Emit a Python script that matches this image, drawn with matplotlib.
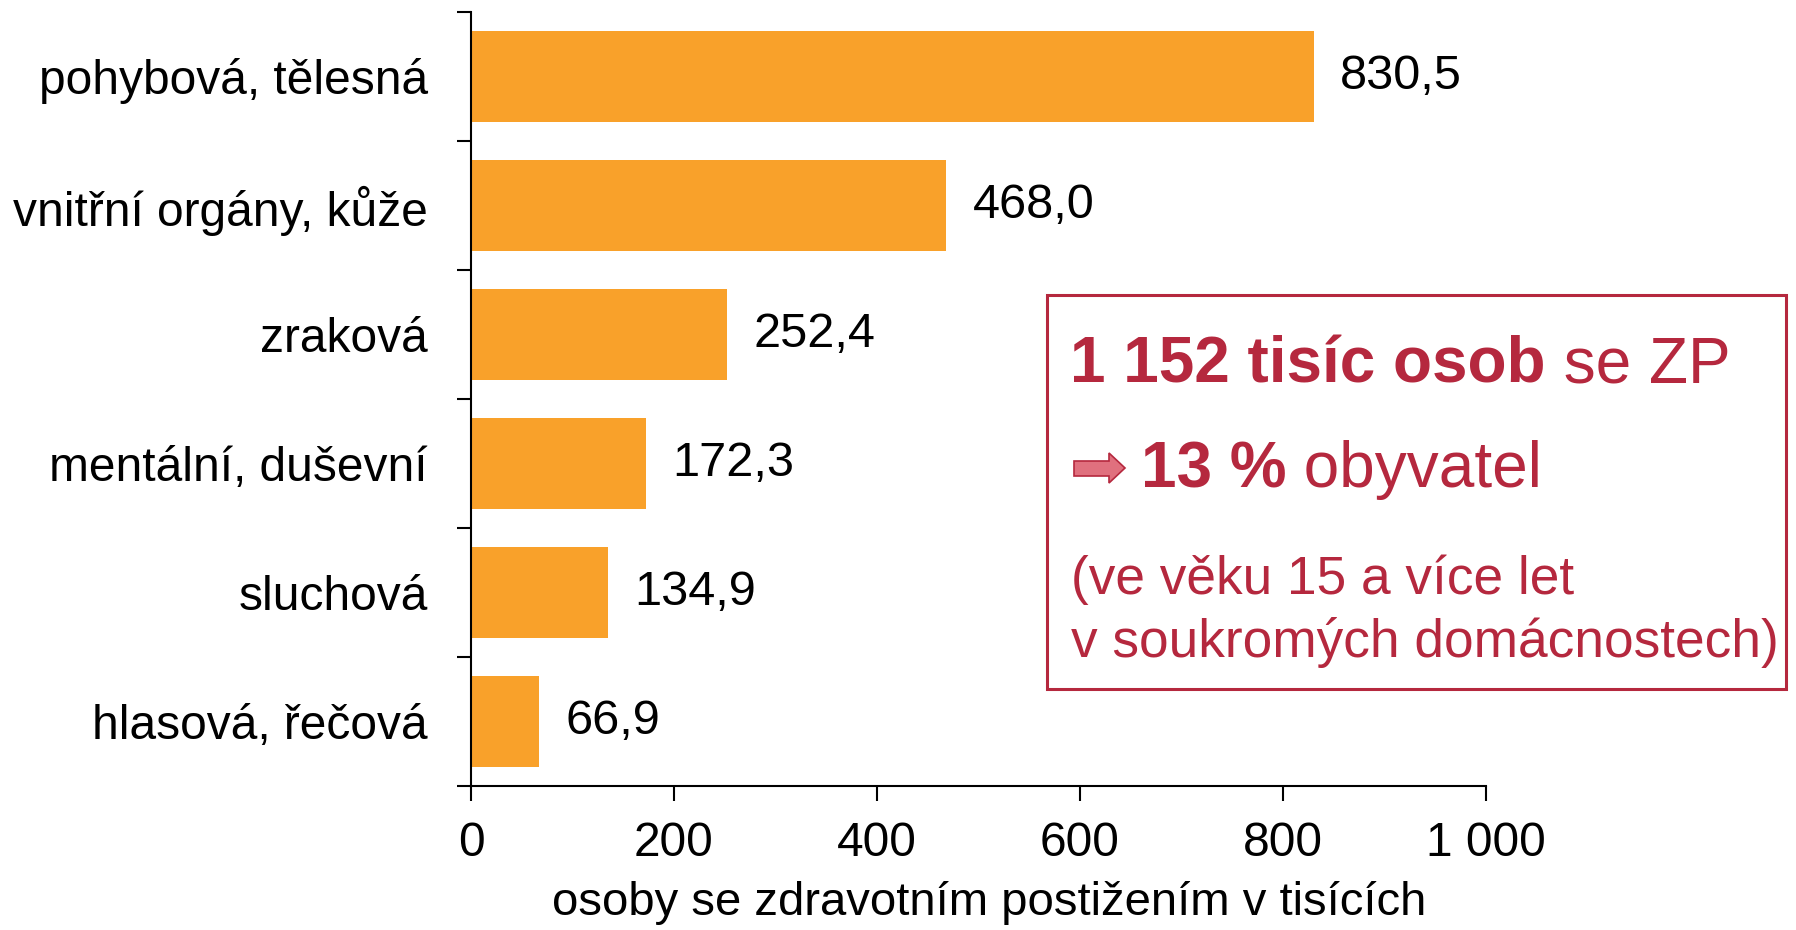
import matplotlib.pyplot as plt
from matplotlib.patches import Rectangle, Polygon
from matplotlib.ticker import FixedLocator

plt.rcParams['font.family'] = ['Liberation Sans', 'DejaVu Sans']

# data
kategorie = ["pohybová, tělesná", "vnitřní orgány, kůže", "zraková",
             "mentální, duševní", "sluchová", "hlasová, řečová"]
hodnoty = [830.5, 468.0, 252.4, 172.3, 134.9, 66.9]
x_ticks = [0, 200, 400, 600, 800, 1000]
x_tick_labels = ["0", "200", "400", "600", "800", "1 000"]

ORANZOVA = "#F9A12A"
CERVENA = "#B5283E"

W, H = 1796, 930
fig = plt.figure(figsize=(W / 100, H / 100), dpi=100)
ax = fig.add_axes([471 / W, 1 - 786 / H, (1486 - 471) / W, (786 - 12) / H])

pos = list(range(len(kategorie)))
ax.barh(pos, hodnoty, height=0.70, color=ORANZOVA)

for p, v in zip(pos, hodnoty):
    ax.annotate(f"{v:.1f}".replace(".", ","), xy=(v, p), xytext=(19, 0),
                textcoords="offset points", va="center", ha="left", fontsize=35)

ax.set_xlim(0, 1000)
ax.set_ylim(len(kategorie) - 0.5, -0.5)
ax.set_xticks(x_ticks)
ax.set_xticklabels(x_tick_labels, fontsize=34.5)
ax.set_yticks(pos)
ax.set_yticklabels(kategorie, fontsize=34.5)
ax.yaxis.set_minor_locator(FixedLocator([i - 0.5 for i in range(len(kategorie) + 1)]))
ax.tick_params(axis="y", which="major", length=0, pad=31)
ax.tick_params(axis="y", which="minor", length=10, width=1.5, direction="out")
ax.tick_params(axis="x", length=11, width=1.5, direction="out", pad=14)
ax.set_xlabel("osoby se zdravotním postižením v tisících", fontsize=34, labelpad=11, x=0.511)

for s in ["top", "right"]:
    ax.spines[s].set_visible(False)
for s in ["left", "bottom"]:
    ax.spines[s].set_linewidth(1.5)

# rámeček s textem
fig.patches.append(Rectangle((1047 / W, 1 - 689 / H), (1786 - 1047) / W, (689 - 295) / H,
                             transform=fig.transFigure, fill=False,
                             edgecolor=CERVENA, linewidth=2.2))


def radek(x, y, casti, size):
    # první část na účaří (x, y), další navazují zprava
    t = fig.text(x / W, 1 - y / H, casti[0][0], fontsize=size, fontweight=casti[0][1],
                 color=CERVENA, ha="left", va="baseline")
    for txt, weight in casti[1:]:
        t = ax.annotate(txt, xy=(1, 0), xycoords=t, xytext=(0, 0),
                        textcoords="offset points", fontsize=size, fontweight=weight,
                        color=CERVENA, ha="left", va="bottom", annotation_clip=False)


radek(1070, 382, [("1 152 tisíc osob", "bold"), (" se ZP", "normal")], 46)
radek(1141, 487, [("13 %", "bold"), (" obyvatel", "normal")], 46)
fig.text(1071 / W, 1 - 594 / H, "(ve věku 15 a více let", fontsize=38.3,
         color=CERVENA, ha="left", va="baseline")
fig.text(1071 / W, 1 - 657 / H, "v soukromých domácnostech)", fontsize=38.3,
         color=CERVENA, ha="left", va="baseline")

# šipka
sx = [1074, 1109, 1109, 1125, 1109, 1109, 1074]
sy = [461, 461, 453, 468, 483, 476, 476]
fig.patches.append(Polygon([(a / W, 1 - b / H) for a, b in zip(sx, sy)], closed=True,
                           transform=fig.transFigure, facecolor="#E0707E",
                           edgecolor=CERVENA, linewidth=1.2))

fig.savefig("out.png", dpi=100)
